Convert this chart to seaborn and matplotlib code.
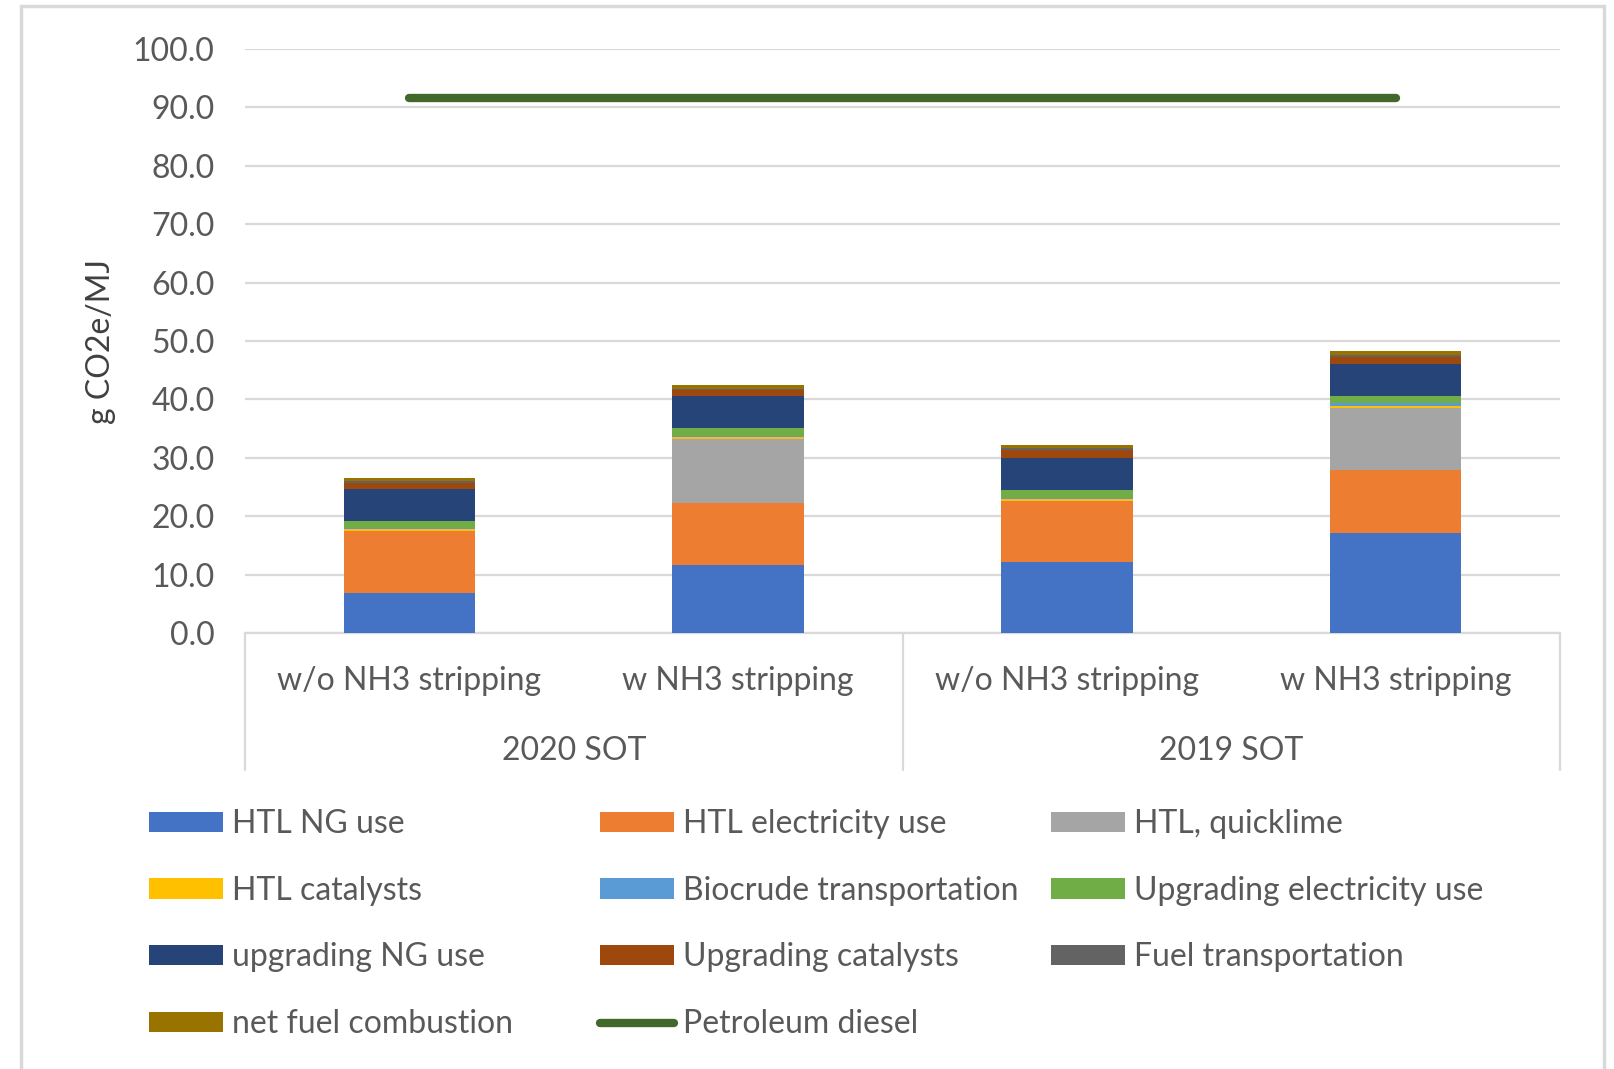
import numpy as np
import pandas as pd
import matplotlib
matplotlib.use("Agg")
import matplotlib.pyplot as plt
from matplotlib.patches import Patch, Rectangle
from matplotlib.lines import Line2D
import matplotlib.transforms as mtransforms
import seaborn as sns

# ---- data (g CO2e/MJ) ----
bar_ids = ["a", "b", "c", "d"]
scenario_labels = ["w/o NH3 stripping", "w NH3 stripping", "w/o NH3 stripping", "w NH3 stripping"]
case_labels = ["2020 SOT", "2019 SOT"]

htl_ng_use = [6.9, 11.6, 12.2, 17.2]
htl_electricity_use = [10.6, 10.7, 10.4, 10.7]
htl_quicklime = [0.0, 11.0, 0.0, 10.6]
htl_catalysts = [0.3, 0.3, 0.3, 0.35]
biocrude_transportation = [0.1, 0.2, 0.2, 0.45]
upgrading_electricity_use = [1.3, 1.3, 1.4, 1.3]
upgrading_ng_use = [5.5, 5.5, 5.5, 5.4]
upgrading_catalysts = [1.0, 1.0, 1.25, 1.3]
fuel_transportation = [0.3, 0.2, 0.4, 0.3]
net_fuel_combustion = [0.55, 0.7, 0.5, 0.7]
petroleum_diesel = [91.6, 91.6, 91.6, 91.6]

series_names = ["HTL NG use", "HTL electricity use", "HTL, quicklime", "HTL catalysts",
                "Biocrude transportation", "Upgrading electricity use", "upgrading NG use",
                "Upgrading catalysts", "Fuel transportation", "net fuel combustion"]
series_values = [htl_ng_use, htl_electricity_use, htl_quicklime, htl_catalysts,
                 biocrude_transportation, upgrading_electricity_use, upgrading_ng_use,
                 upgrading_catalysts, fuel_transportation, net_fuel_combustion]
series_colors = ["#4472C4", "#ED7D31", "#A5A5A5", "#FFC000", "#5B9BD5", "#70AD47",
                 "#264478", "#9E480E", "#636363", "#997300"]
diesel_color = "#43682B"

# ---- style ----
sns.set_style("white")
plt.rcParams["font.family"] = ["Lato", "DejaVu Sans"]
TXT = "#595959"
GRID = "#D9D9D9"
FS = 23

W, H = 1614, 1069
fig = plt.figure(figsize=(W / 100, H / 100), dpi=100)
ax = fig.add_axes([245 / W, 1 - 633 / H, (1560 - 245) / W, (633 - 49) / H])

# stacked bars: draw cumulative totals from the top layer down
cum = np.cumsum(np.array(series_values), axis=0)
for i in reversed(range(len(series_names))):
    df = pd.DataFrame({"bar": bar_ids, "total": cum[i]})
    sns.barplot(data=df, x="bar", y="total", order=bar_ids, color=series_colors[i],
                saturation=1, width=0.4, linewidth=0, errorbar=None, ax=ax, zorder=3)

# petroleum diesel reference line
sns.lineplot(x=np.arange(len(bar_ids)), y=petroleum_diesel, color=diesel_color,
             linewidth=6, solid_capstyle="round", ax=ax, zorder=4, legend=False)

ax.set_xlim(-0.5, 3.5)
ax.set_ylim(0, 100)
ax.set_yticks(np.arange(0, 101, 10))
ax.set_yticklabels([f"{v:.1f}" for v in np.arange(0, 101, 10)], fontsize=FS, color=TXT)
ax.tick_params(axis="y", length=0, pad=22)
ax.yaxis.grid(True, color=GRID, linewidth=1.6, zorder=0)
ax.set_axisbelow(True)
ax.set_xticks([])
ax.set_xlabel("")
ax.set_ylabel("g CO2e/MJ", fontsize=FS, color="#404040", labelpad=12)
for s in ["left", "right", "top"]:
    ax.spines[s].set_visible(False)
ax.spines["bottom"].set_color(GRID)
ax.spines["bottom"].set_linewidth(1.6)

# two-level category axis
trans = mtransforms.blended_transform_factory(ax.transData, ax.transAxes)
for i, lab in enumerate(scenario_labels):
    ax.text(i, -0.082, lab, transform=trans, ha="center", va="center",
            fontsize=FS, color=TXT)
for g, lab in enumerate(case_labels):
    ax.text(0.5 + 2 * g, -0.202, lab, transform=trans, ha="center", va="center",
            fontsize=FS, color=TXT)
for xb in [-0.5, 1.5, 3.5]:
    ax.plot([xb, xb], [0, -0.235], transform=trans, color=GRID, linewidth=1.6,
            clip_on=False)

# legend in three columns
def handle_for(name):
    if name == "Petroleum diesel":
        return Line2D([], [], color=diesel_color, linewidth=6, solid_capstyle="round")
    return Patch(facecolor=series_colors[series_names.index(name)], edgecolor="none")

legend_columns = [
    ["HTL NG use", "HTL catalysts", "upgrading NG use", "net fuel combustion"],
    ["HTL electricity use", "Biocrude transportation", "Upgrading catalysts", "Petroleum diesel"],
    ["HTL, quicklime", "Upgrading electricity use", "Fuel transportation"],
]
col_x = [149, 600, 1051]
for cx, names in zip(col_x, legend_columns):
    leg = fig.legend([handle_for(n) for n in names], names, loc="upper left",
                     bbox_to_anchor=(cx / W, 1 - 809 / H), frameon=False,
                     fontsize=FS, handlelength=2.32, handleheight=0.6,
                     handletextpad=0.27, labelspacing=1.15, borderpad=0,
                     borderaxespad=0)
    for t in leg.get_texts():
        t.set_color(TXT)

# chart-area frame
fig.patches.append(Rectangle((21 / W, -0.01), (1604 - 21) / W, 1 - 6 / H + 0.01,
                             transform=fig.transFigure, fill=False,
                             edgecolor=GRID, linewidth=2.5))

fig.savefig("out.png", dpi=100, facecolor="white")
